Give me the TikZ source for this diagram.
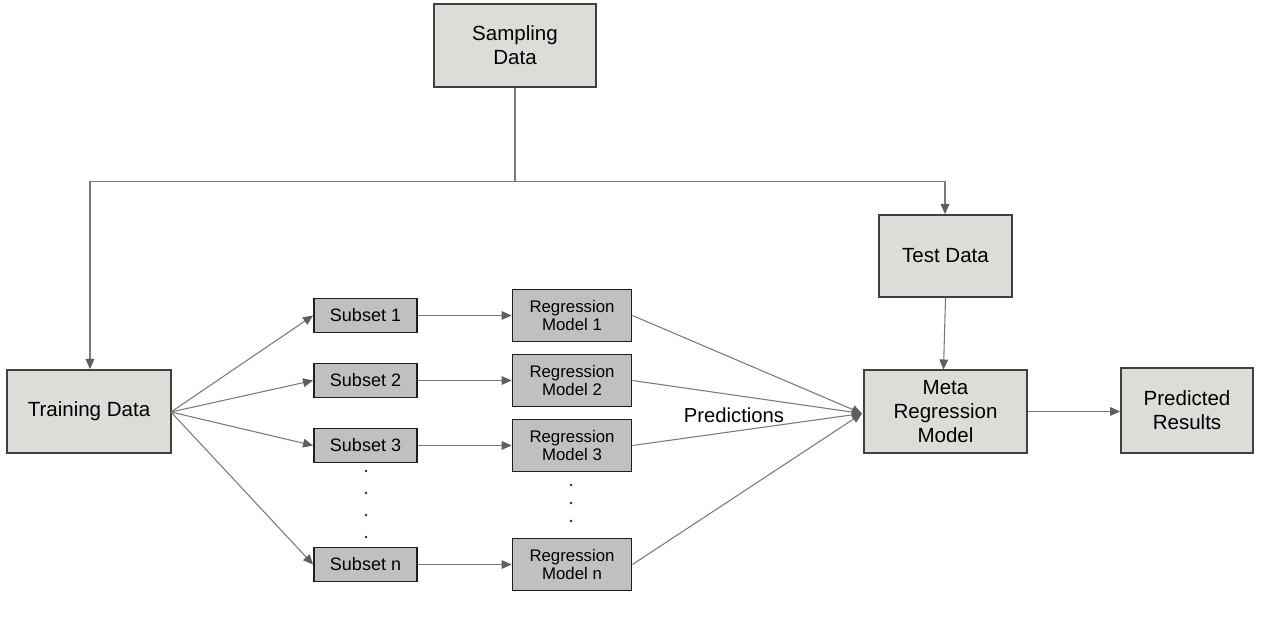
\documentclass[tikz,border=0pt]{standalone}
\usepackage{fontspec}
\setmainfont{Liberation Sans}
\usetikzlibrary{arrows.meta}
\definecolor{lightbox}{HTML}{DCDCD8}
\definecolor{darkbox}{HTML}{C0C0C0}
\definecolor{bigborder}{HTML}{404040}
\definecolor{smallborder}{HTML}{1E1E1E}
\definecolor{linegrey}{HTML}{7A7A7A}
\definecolor{tipgrey}{HTML}{5E5E5E}
\tikzset{
  bigbox/.style={draw=bigborder, fill=lightbox, line width=1.5pt, inner sep=0pt, align=center,
    font=\fontsize{15.4pt}{18pt}\selectfont},
  subsetbox/.style={draw=smallborder, fill=darkbox, line width=1.4pt, inner sep=0pt, align=center,
    minimum width=103pt*0.75, minimum height=34pt*0.75, font=\fontsize{13.5pt}{16pt}\selectfont},
  regbox/.style={draw=smallborder, fill=darkbox, line width=1.4pt, inner sep=0pt, align=center,
    minimum width=119pt*0.75, minimum height=52pt*0.75, font=\fontsize{12.6pt}{14pt}\selectfont},
  conn/.style={draw=linegrey, line width=0.8pt, -{Triangle[length=7.5pt,width=6.5pt,color=tipgrey]}},
  plainconn/.style={draw=linegrey, line width=0.8pt},
  dotmark/.style={circle, fill=black!85, inner sep=0pt, minimum size=2.2pt},
}
\begin{document}
\begin{tikzpicture}[x=0.75pt,y=-0.75pt]
\path[use as bounding box, fill=white] (0,0) rectangle (1262,630);

% big boxes
\node[bigbox, minimum width=162*0.75pt, minimum height=83*0.75pt] (samp) at (515,45.5) {Sampling\\Data};
\node[bigbox, minimum width=164*0.75pt, minimum height=83*0.75pt] (train) at (89,411.5) {Training Data};
\node[bigbox, minimum width=133*0.75pt, minimum height=82*0.75pt] (test) at (945.5,256) {Test Data};
\node[bigbox, minimum width=163*0.75pt, minimum height=83*0.75pt] (meta) at (945.5,411.5) {Meta\\Regression\\Model};
\node[bigbox, minimum width=132*0.75pt, minimum height=85*0.75pt] (pred) at (1187,410.5) {Predicted\\Results};

% subsets
\node[subsetbox] (s1) at (365.5,315.5) {Subset 1};
\node[subsetbox] (s2) at (365.5,380.5) {Subset 2};
\node[subsetbox] (s3) at (365.5,445.5) {Subset 3};
\node[subsetbox] (sn) at (365.5,564.5) {Subset n};

% regression models
\node[regbox] (r1) at (572,315.5) {Regression\\Model 1};
\node[regbox] (r2) at (572,380.5) {Regression\\Model 2};
\node[regbox] (r3) at (572,445.5) {Regression\\Model 3};
\node[regbox] (rn) at (572,564.5) {Regression\\Model n};

% vertical dots
\foreach \y [count=\i] in {471,493,515,537} {
  \node[dotmark] (sd\i) at (366,\y) {};
}
\foreach \y [count=\i] in {485,503,521} {
  \node[dotmark] (rd\i) at (571,\y) {};
}

% top connectors
\coordinate (junc) at (515,181.5);
\coordinate (leftc) at (90,181.5);
\coordinate (rightc) at (945,181.5);
\draw[plainconn] (samp.south) -- (junc);
\draw[conn] (junc) -- (leftc) -- (train.north -| leftc);
\draw[conn] (junc) -- (rightc) -- (test.north -| rightc);

% training to subsets
\coordinate (tsrc) at (171,412);
\foreach \s in {s1,s2,s3,sn} {
  \draw[conn] (tsrc) -- (\s.west);
}
% subsets to models
\draw[conn] (s1.east) -- (r1.west);
\draw[conn] (s2.east) -- (r2.west);
\draw[conn] (s3.east) -- (r3.west);
\draw[conn] (sn.east) -- (rn.west);

% models to meta
\coordinate (mtip) at (862,413.5);
\foreach \r in {r1,r2,r3,rn} {
  \draw[conn] (\r.east) -- (mtip);
}
\node[font=\fontsize{15.2pt}{18pt}\selectfont, inner sep=0pt] (predlbl) at (734,415) {Predictions};

% test to meta
\draw[conn] (test.south) -- (943.5,369.5);
% meta to predicted
\draw[conn] (meta.east) -- (pred.west |- meta.east);
\end{tikzpicture}
\end{document}
